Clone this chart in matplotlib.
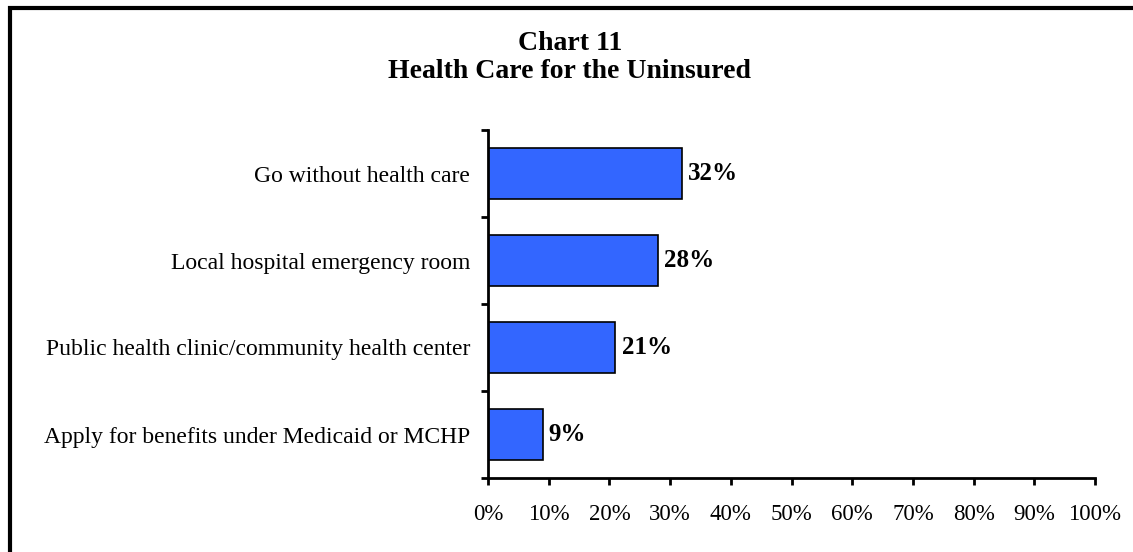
import matplotlib.pyplot as plt
import matplotlib.patches as mpatches
import numpy as np

categories = ["Go without health care",
              "Local hospital emergency room",
              "Public health clinic/community health center",
              "Apply for benefits under Medicaid or MCHP"]
values = [32, 28, 21, 9]
xticks = np.arange(0, 101, 10)
xticklabels = [f"{t}%" for t in xticks]

plt.rcParams['font.family'] = ['Liberation Serif', 'DejaVu Serif']

fig = plt.figure(figsize=(11.33, 5.52), dpi=100)
ax = fig.add_axes([488/1133, 1-478/552, (1095-488)/1133, (478-130)/552])

# frame: only its top and left edges fall inside the picture
fig.patches.append(mpatches.Rectangle((10/1133, -0.2), 1.3, 1.2 - 8/552, transform=fig.transFigure,
                                      fill=False, edgecolor="black", linewidth=3))

y = np.arange(len(categories))[::-1]
ax.barh(y, values, height=0.59, color="#3366FF", edgecolor="black", linewidth=1.2)
for yi, v in zip(y, values):
    ax.text(v + 1.0, yi, f"{v}%", va="center", ha="left", fontsize=18, fontweight="bold")

ax.set_xlim(0, 100)
ax.set_ylim(-0.5, len(categories) - 0.5)
ax.set_xticks(xticks)
ax.set_xticklabels(xticklabels, fontsize=16.5)
ax.set_yticks(np.arange(-0.5, len(categories), 1.0))
ax.set_yticklabels([])
ax.set_yticks(y, minor=True)
ax.set_yticklabels(categories, minor=True, fontsize=17)
ax.tick_params(axis="y", which="minor", length=0, pad=13)
ax.tick_params(axis="y", which="major", length=5, width=2)
ax.tick_params(axis="x", which="major", length=5, width=2, pad=14)
for s in ["top", "right"]:
    ax.spines[s].set_visible(False)
ax.spines["left"].set_linewidth(2)
ax.spines["bottom"].set_linewidth(2)

fig.text(0.503, 1-43/552, "Chart 11", ha="center", va="center", fontsize=20, fontweight="bold")
fig.text(0.503, 1-72/552, "Health Care for the Uninsured", ha="center", va="center",
         fontsize=20, fontweight="bold")

fig.savefig("out.png", dpi=100)
